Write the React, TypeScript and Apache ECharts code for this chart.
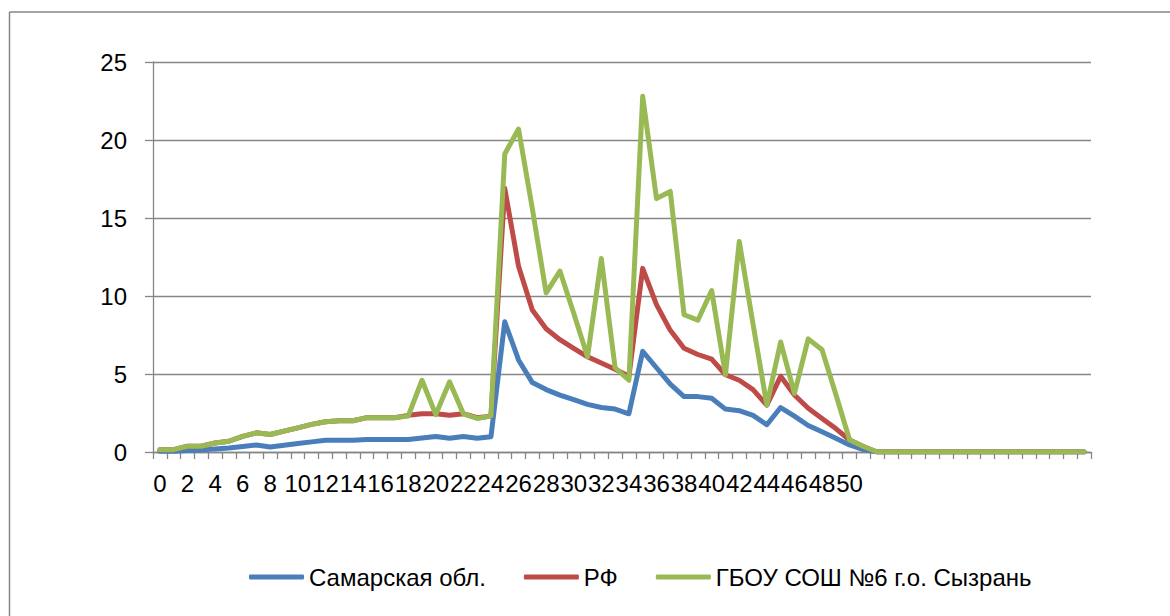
import React, { useEffect, useRef } from "react";
import * as echarts from "echarts";

const categories: string[] = [
  "0", "1", "2", "3", "4", "5", "6", "7", "8", "9",
  "10", "11", "12", "13", "14", "15", "16", "17", "18", "19",
  "20", "21", "22", "23", "24", "25", "26", "27", "28", "29",
  "30", "31", "32", "33", "34", "35", "36", "37", "38", "39",
  "40", "41", "42", "43", "44", "45", "46", "47", "48", "49",
  "50", "", "", "", "", "", "", "", "", "",
  "", "", "", "", "", "", "", "",
];

const seriesNames = ["Самарская обл.", "РФ", "ГБОУ СОШ №6 г.о. Сызрань"];

const samara: number[] = [
  0.05, 0.05, 0.1, 0.12, 0.2, 0.25, 0.35, 0.45, 0.32, 0.43,
  0.55, 0.65, 0.75, 0.75, 0.75, 0.8, 0.8, 0.8, 0.8, 0.9,
  1.0, 0.88, 1.0, 0.88, 0.98, 8.35, 5.9, 4.45, 4.0, 3.65,
  3.35, 3.05, 2.85, 2.75, 2.45, 6.45, 5.4, 4.35, 3.55, 3.55,
  3.45, 2.75, 2.65, 2.35, 1.75, 2.85, 2.3, 1.7, 1.3, 0.88,
  0.45, 0.15, 0, 0, 0, 0, 0, 0, 0, 0,
  0, 0, 0, 0, 0, 0, 0, 0,
];

const rf: number[] = [
  0.15, 0.15, 0.37, 0.37, 0.58, 0.69, 1.0, 1.23, 1.12, 1.34,
  1.55, 1.77, 1.94, 2.0, 2.0, 2.2, 2.2, 2.2, 2.35, 2.45,
  2.45, 2.35, 2.45, 2.2, 2.3, 16.9, 11.9, 9.1, 7.9, 7.2,
  6.65, 6.1, 5.7, 5.3, 4.85, 11.77, 9.45, 7.8, 6.65, 6.25,
  5.95, 4.95, 4.6, 4.0, 3.0, 4.85, 3.65, 2.8, 2.15, 1.5,
  0.77, 0.35, 0, 0, 0, 0, 0, 0, 0, 0,
  0, 0, 0, 0, 0, 0, 0, 0,
];

const school: number[] = [
  0.15, 0.15, 0.37, 0.37, 0.58, 0.69, 1.0, 1.23, 1.12, 1.34,
  1.55, 1.77, 1.94, 2.0, 2.0, 2.2, 2.2, 2.2, 2.3, 4.6,
  2.4, 4.5, 2.45, 2.15, 2.3, 19.1, 20.7, 15.6, 10.2, 11.6,
  8.9, 6.1, 12.4, 5.4, 4.6, 22.8, 16.25, 16.7, 8.8, 8.45,
  10.35, 4.95, 13.5, 8.2, 3.0, 7.05, 3.75, 7.25, 6.55, 3.7,
  0.77, 0.35, 0, 0, 0, 0, 0, 0, 0, 0,
  0, 0, 0, 0, 0, 0, 0, 0,
];

const colors = ["#4A7EBB", "#BE4B48", "#98B954"];
const FONT = "Liberation Sans";
const GRAY = "#868686";

export default function App() {
  const ref = useRef<HTMLDivElement>(null);

  useEffect(() => {
    if (!ref.current) return;
    const chart = echarts.init(ref.current, undefined, { renderer: "svg" });
    const values = [samara, rf, school];
    chart.setOption({
      animation: false,
      backgroundColor: "#ffffff",
      color: colors,
      textStyle: { fontFamily: FONT },
      grid: { left: 153, right: 79, top: 62, bottom: 164, containLabel: false },
      legend: {
        left: 244,
        top: 560,
        icon: "roundRect",
        itemWidth: 55,
        itemHeight: 5,
        itemGap: 38,
        textStyle: { fontSize: 24, color: "#000", fontFamily: FONT },
        data: seriesNames,
      },
      xAxis: {
        type: "category",
        data: categories,
        boundaryGap: true,
        axisLine: { show: true, lineStyle: { color: GRAY, width: 1.3 } },
        axisTick: { show: true, interval: 0, length: 7, lineStyle: { color: GRAY, width: 1.3 } },
        axisLabel: { interval: 1, margin: 19, fontSize: 24, color: "#000", fontFamily: FONT },
        splitLine: { show: false },
      },
      yAxis: {
        type: "value",
        min: 0,
        max: 25,
        interval: 5,
        axisLine: { show: true, lineStyle: { color: GRAY, width: 1.3 } },
        axisTick: { show: true, length: 8, lineStyle: { color: GRAY, width: 1.3 } },
        axisLabel: { margin: 26, fontSize: 24, color: "#000", fontFamily: FONT },
        splitLine: { show: true, lineStyle: { color: GRAY, width: 1.3 } },
      },
      series: seriesNames.map((name, i) => ({
        name,
        type: "line",
        data: values[i],
        symbol: "none",
        lineStyle: { width: 5, color: colors[i], cap: "round", join: "round" },
        itemStyle: { color: colors[i] },
        z: 2 + i,
      })),
      graphic: [
        { type: "line", shape: { x1: 9.5, y1: 12, x2: 9.5, y2: 616 }, style: { stroke: GRAY, lineWidth: 1.5 } },
        { type: "line", shape: { x1: 9.5, y1: 12, x2: 1170, y2: 12 }, style: { stroke: GRAY, lineWidth: 1.5 } },
      ],
    });
    return () => chart.dispose();
  }, []);

  return (
    <div
      ref={ref}
      style={{ position: "absolute", left: 0, top: 0, width: 1170, height: 616, background: "#fff" }}
    />
  );
}
